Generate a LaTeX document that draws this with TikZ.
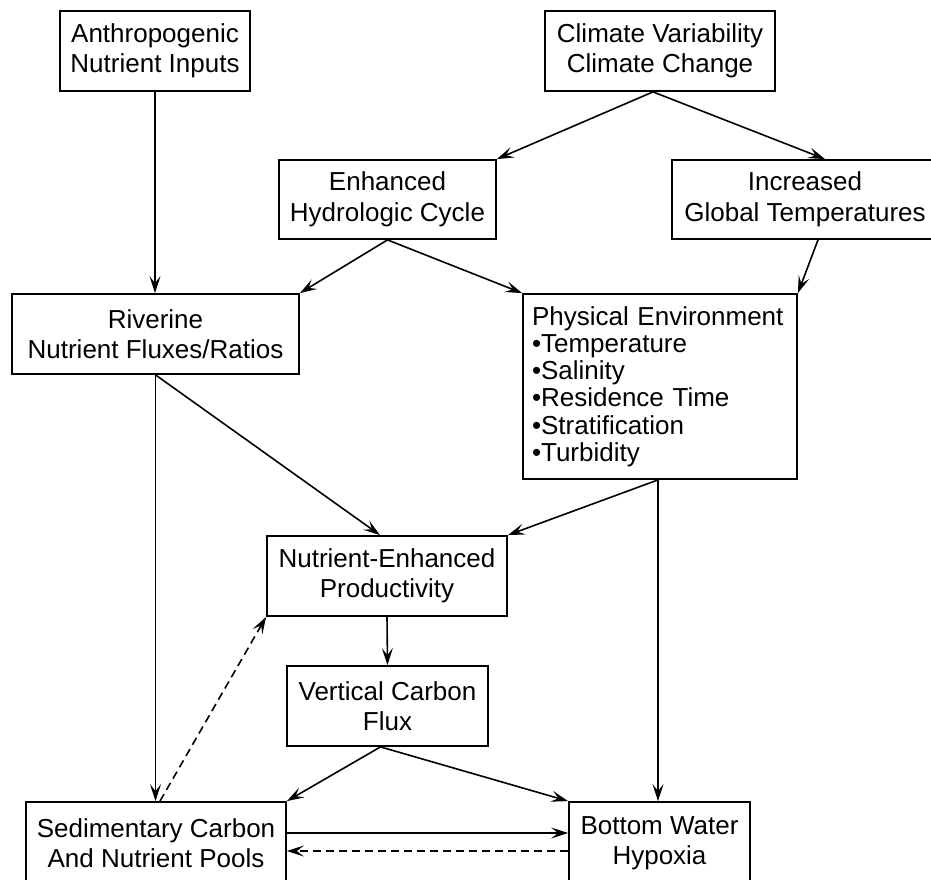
\documentclass[tikz,border=0pt]{standalone}
\usepackage{fontspec}
\setmainfont{Liberation Sans}
\usetikzlibrary{arrows.meta}
\begin{document}
\begin{tikzpicture}[x=1pt,y=-1pt]
\tikzset{
 box/.style={draw, line width=1.8pt, align=center, inner sep=0pt, font=\fontsize{26}{30.5}\selectfont},
 arr/.style={line width=1.6pt, -{Stealth[length=17pt,width=11pt,inset=7pt]}},
 darr/.style={arr, dash pattern=on 8pt off 5pt},
}
\useasboundingbox (0,0) rectangle (931,880);
\node[box, minimum width=190pt, minimum height=80pt] (anth) at (155,51) {Anthropogenic\\Nutrient Inputs};
\node[box, minimum width=230pt, minimum height=80pt] (clim) at (660,51) {Climate Variability\\Climate Change};
\node[box, minimum width=217pt, minimum height=79pt] (enh) at (387.5,199.5) {Enhanced\\Hydrologic Cycle};
\node[box, minimum width=266pt, minimum height=79pt] (incr) at (805,199.5) {Increased\\Global Temperatures};
\node[box, minimum width=287pt, minimum height=80pt] (riv) at (155.5,334) {Riverine\\Nutrient Fluxes/Ratios};
\node[box, align=left, text width=256pt, inner xsep=9pt, minimum height=185pt, font=\fontsize{26}{27.2}\selectfont] (phys) at (660,386.5) {Physical Environment\\\textbullet Temperature\\\textbullet Salinity\\\textbullet Residence Time\\\textbullet Stratification\\\textbullet Turbidity};
\node[box, minimum width=240pt, minimum height=80pt] (nep) at (387,576) {Nutrient-Enhanced\\Productivity};
\node[box, minimum width=201pt, minimum height=80pt] (vcf) at (387.5,706) {Vertical Carbon\\Flux};
\node[box, minimum width=260pt, minimum height=82pt] (sed) at (156,843) {Sedimentary Carbon\\And Nutrient Pools};
\node[box, minimum width=181pt, minimum height=82pt] (hyp) at (659.5,843) {Bottom Water\\Hypoxia};

\draw[arr] (anth.south) -- (anth.south |- riv.north);
\draw[arr] ([xshift=-7pt]clim.south) -- (enh.north east);
\draw[arr] ([xshift=-7pt]clim.south) -- ([xshift=20pt]incr.north);
\draw[arr] (enh.south) -- (riv.north east);
\draw[arr] (enh.south) -- (phys.north west);
\draw[arr] ([xshift=13pt]incr.south) -- (phys.north east);
\draw[arr] (riv.south) -- (riv.south |- sed.north);
\draw[arr] (riv.south) -- ([xshift=-7pt]nep.north);
\draw[arr] ([xshift=-2pt]phys.south) -- (nep.north east);
\draw[arr] ([xshift=-2pt]phys.south) -- ([xshift=-2pt]phys.south |- hyp.north);
\draw[arr] (nep.south) -- (vcf.north);
\draw[arr] ([xshift=-7pt]vcf.south) -- (sed.north east);
\draw[arr] ([xshift=-7pt]vcf.south) -- (hyp.north west);
\draw[arr] ([yshift=10pt]sed.east) -- ([yshift=10pt]hyp.west);
\draw[darr] ([yshift=-8pt]hyp.west) -- ([yshift=-8pt]sed.east);
\draw[darr] ([xshift=4pt]sed.north) -- (nep.south west);
\end{tikzpicture}
\end{document}
